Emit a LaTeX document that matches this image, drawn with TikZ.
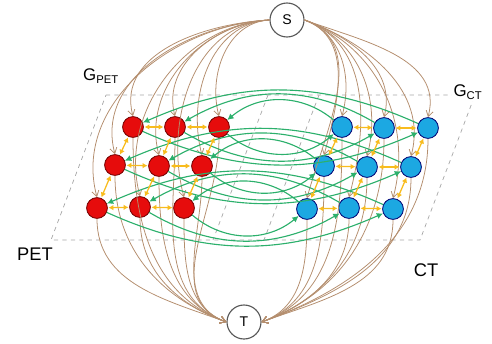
\documentclass[tikz,border=0pt]{standalone}
\usepackage{fontspec}
\setmainfont{Liberation Sans}
\usetikzlibrary{arrows.meta}
\definecolor{edgebrown}{RGB}{180,142,110}
\definecolor{edgegreen}{RGB}{44,176,108}
\definecolor{edgeorange}{RGB}{248,188,30}
\definecolor{petred}{RGB}{230,12,12}
\definecolor{ctblue}{RGB}{28,168,226}

\begin{document}
\begin{tikzpicture}[x=0.025cm, y=-0.025cm,
    petnode/.style={circle, draw=red!45!black, fill=petred, line width=0.6pt, minimum size=0.52cm, inner sep=0pt},
    ctnode/.style={circle, draw=blue!45!black, fill=ctblue, line width=0.6pt, minimum size=0.52cm, inner sep=0pt},
    terminal/.style={circle, draw=black!65, fill=white, line width=0.8pt, minimum size=0.85cm, inner sep=0pt},
    plane/.style={dashed, draw=black!35, line width=0.5pt},
    brownedge/.style={-{Straight Barb[length=4pt,width=5pt]}, draw=edgebrown, line width=0.55pt},
    greenedge/.style={-{Latex[length=4.5pt,width=4.5pt]}, draw=edgegreen, line width=0.8pt},
    orangeedge/.style={{Latex[length=3.5pt,width=4pt]}-{Latex[length=3.5pt,width=4pt]}, draw=edgeorange, line width=0.9pt, shorten <=0.5pt, shorten >=0.5pt}]
  \useasboundingbox (0,0) rectangle (492,343);

  % the two layers
  \draw[plane] (106,95) -- (475,95) -- (420,240) -- (51,240) -- cycle;
  \draw[plane] (268,95) -- (213,240);
  \draw[plane] (319,95) -- (264,240);

  \node[fill=white, inner sep=1pt, font=\fontsize{12}{14}\selectfont] (gpet) at (101,76) {G\textsubscript{PET}};
  \node[fill=white, inner sep=1pt, font=\fontsize{12}{14}\selectfont] (gct) at (468,92) {G\textsubscript{CT}};
  \node[font=\fontsize{13}{15}\selectfont] (pet) at (35,254) {PET};
  \node[font=\fontsize{13}{15}\selectfont] (ct) at (426,270) {CT};

  % terminals
  \node[terminal] (S) at (287,20) {S};
  \node[terminal] (T) at (244,322) {T};

  % PET and CT states
  \foreach \n/\x/\y in {p11/133/127, p12/175/127, p13/219/127,
                        p21/115/165, p22/159/166, p23/202/166,
                        p31/97/208, p32/140/207, p33/184/208}
    \node[petnode] (\n) at (\x,\y) {};
  \foreach \n/\x/\y in {c11/342/127, c12/384/128, c13/428/128,
                        c21/324/166, c22/367/167, c23/411/167,
                        c31/307/209, c32/349/208, c33/393/209}
    \node[ctnode] (\n) at (\x,\y) {};

  % source and sink links
  \foreach \n in {p11, p12, p13, p21, p22, p23, p31, p32, p33} {
    \draw[brownedge] (S.west) to[out=183, in=105] (\n.north);
    \draw[brownedge] (\n.south) to[out=-90, in=160] (T.west);
  }
  \foreach \n in {c11, c12, c13, c21, c22, c23, c31, c32, c33} {
    \draw[brownedge] (S.east) to[out=-20, in=75] (\n.north);
    \draw[brownedge] (\n.south) to[out=-90, in=20] (T.east);
  }

  % links between layers
  \foreach \a/\b/\k in {p11/c13/24, p12/c12/30, p13/c11/40,
                        p21/c23/24, p22/c22/30, p23/c21/40,
                        p31/c33/24, p32/c32/30, p33/c31/40} {
    \draw[greenedge] (\b) to[bend right=\k] (\a);
    \draw[greenedge] (\a) to[bend right=\k] (\b);
  }

  % links inside a layer
  \foreach \u/\v in {11/12, 12/13, 21/22, 22/23, 31/32, 32/33,
                     11/21, 21/31, 12/22, 22/32, 13/23, 23/33} {
    \draw[orangeedge] (p\u) -- (p\v);
    \draw[orangeedge] (c\u) -- (c\v);
  }
\end{tikzpicture}
\end{document}
